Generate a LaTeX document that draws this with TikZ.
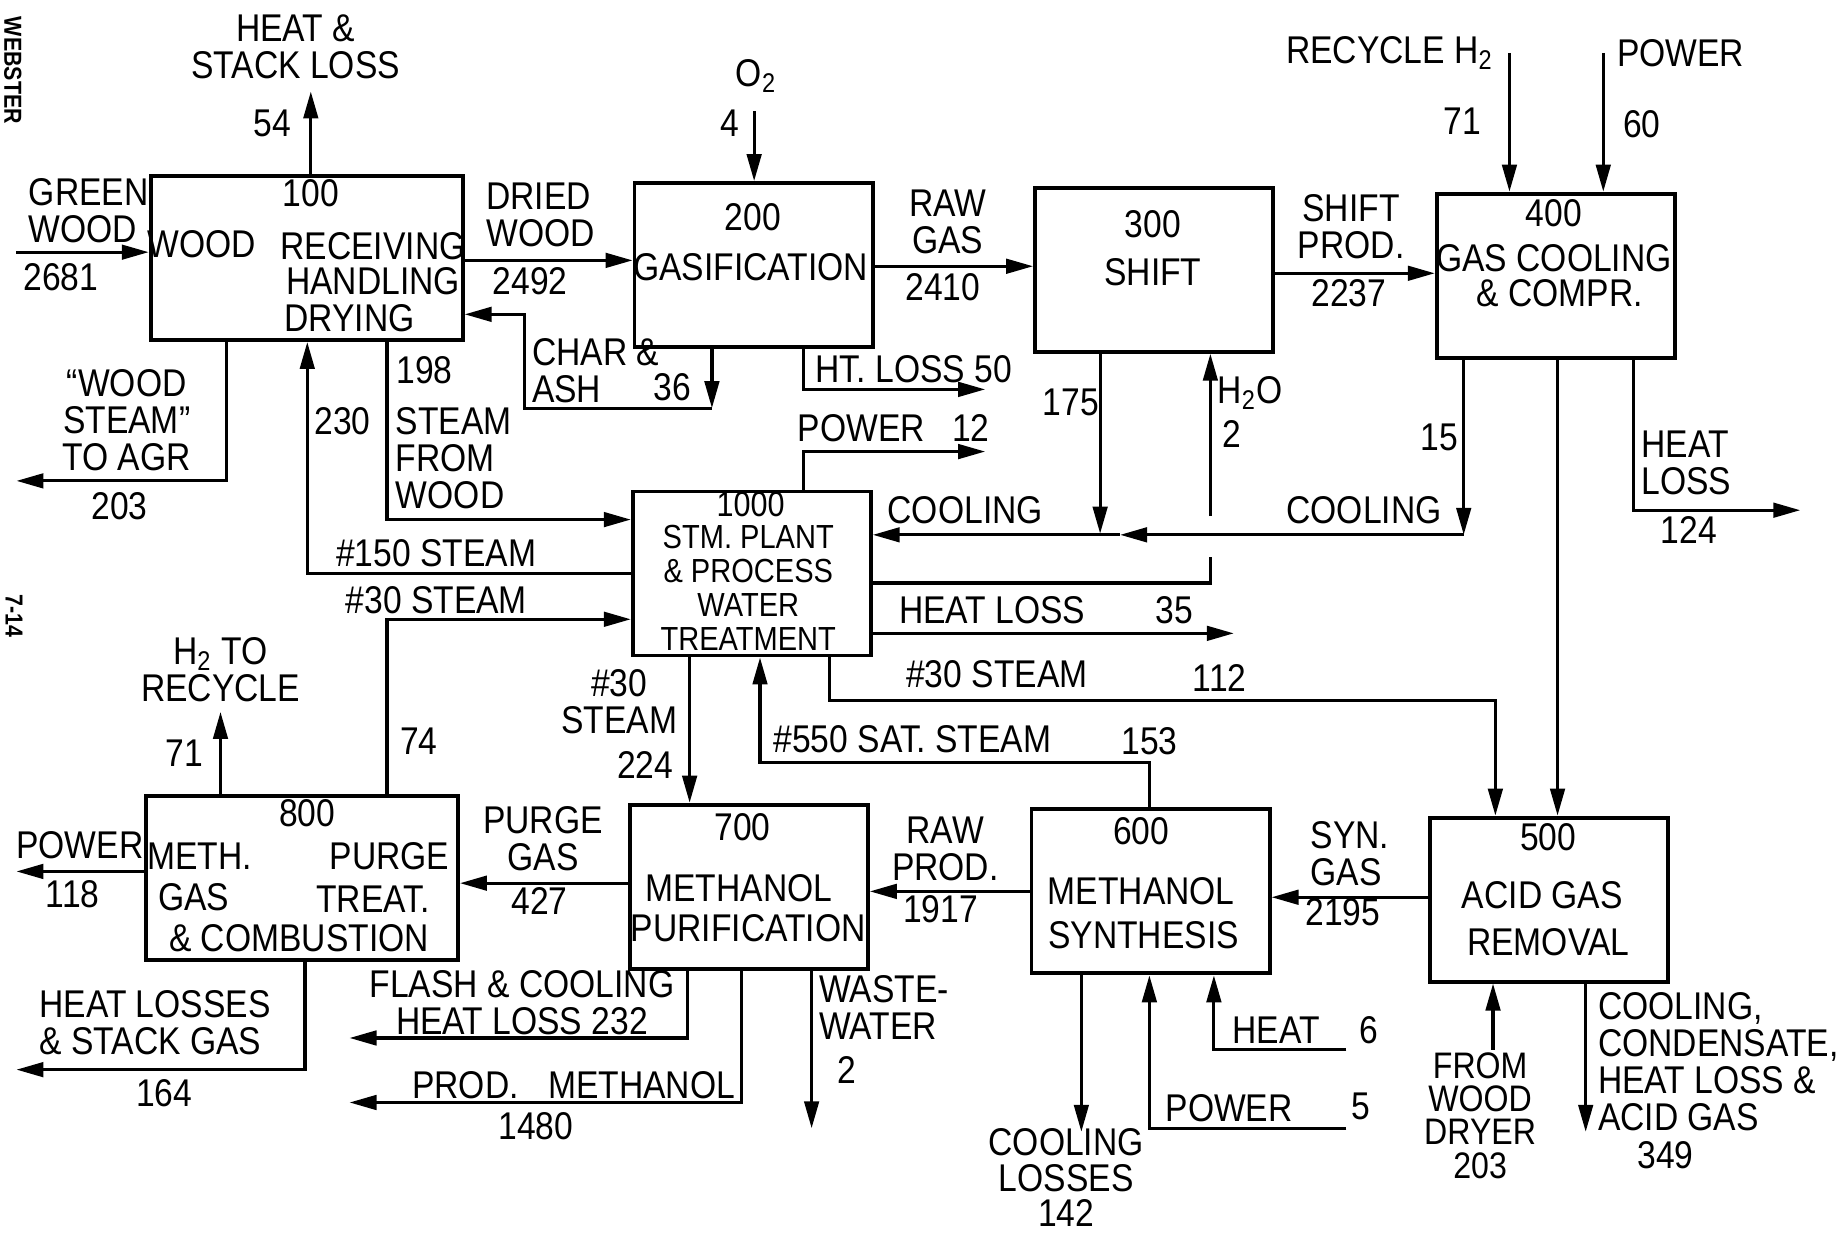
\documentclass[tikz,border=0pt]{standalone}
\usepackage{fontspec}
\setmainfont[FakeStretch=0.87]{Liberation Sans}
\usetikzlibrary{arrows.meta}
\tikzset{
  unit/.style ={draw,line width=1.1pt,minimum width=23.8mm,minimum height=16.4mm,inner sep=0pt},
  wunit/.style={unit,minimum width=31.2mm},
  txt/.style  ={inner sep=0pt,align=center,font=\fontsize{11}{10.5}\selectfont},
  stxt/.style ={txt,font=\fontsize{10}{9}\selectfont},
  ltxt/.style ={txt,align=left,anchor=west},
  flow/.style ={-{Triangle[length=2.7mm,width=1.45mm]},line width=0.9pt},
  pipe/.style ={line width=0.9pt},
}

\begin{document}
\begin{tikzpicture}[x=0.11728mm,y=-0.11728mm]
\useasboundingbox (0,0) rectangle (1568,1051);
% page margin marks
\node[rotate=-90,font=\bfseries\scriptsize] (mweb) at (11,60) {WEBSTER};
\node[rotate=-90,font=\bfseries\scriptsize] (mpage) at (12,525) {7-14};

% process units
\node[wunit] (u100)  at (261.5,220) {};
\node[unit]  (u200)  at (642.5,226) {};
\node[unit]  (u300)  at (984,230) {};
\node[unit]  (u400)  at (1326.5,235) {};
\node[unit]  (u1000) at (641,489) {};
\node[wunit] (u800)  at (257.5,748.5) {};
\node[unit]  (u700)  at (638.5,756) {};
\node[unit]  (u600)  at (981,760) {};
\node[unit]  (u500)  at (1321,767) {};

% unit texts
\node[txt] (n100) at (265,165) {100};
\node[txt] (n100a) at (172,208) {WOOD};
\node[txt] (n100b) at (318,210) {RECEIVING};
\node[txt] (n100c) at (318,240) {HANDLING};
\node[txt] (n100d) at (298,271) {DRYING};
\node[txt] (n200) at (642,185) {200};
\node[txt] (n200a) at (640,228) {GASIFICATION};
\node[txt] (n300) at (983,191) {300};
\node[txt] (n300a) at (983,232) {SHIFT};
\node[txt] (n400) at (1325,182) {400};
\node[txt] (n400a) at (1325,220) {GAS COOLING};
\node[txt] (n400b) at (1330,250) {\& COMPR.};
\node[stxt] (n1000) at (640,430) {1000};
\node[txt,font=\fontsize{9.5}{9.7}\selectfont] (n1000a) at (638,501)
  {STM. PLANT\\\& PROCESS\\WATER\\TREATMENT};
\node[txt] (n800) at (262,693) {800};
\node[txt] (n800a) at (170,730) {METH.};
\node[txt] (n800b) at (332,730) {PURGE};
\node[txt] (n800c) at (165,765) {GAS};
\node[txt] (n800d) at (318,767) {TREAT.};
\node[txt] (n800e) at (255,800) {\& COMBUSTION};
\node[txt] (n700) at (633,705) {700};
\node[txt] (n700a) at (630,757) {METHANOL};
\node[txt] (n700b) at (638,791) {PURIFICATION};
\node[txt] (n600) at (973,709) {600};
\node[txt] (n600a) at (973,760) {METHANOL};
\node[txt] (n600b) at (975,797) {SYNTHESIS};
\node[txt] (n500) at (1320,714) {500};
\node[txt] (n500a) at (1315,763) {ACID GAS};
\node[txt] (n500b) at (1320,803) {REMOVAL};

% free ends
\coordinate (greenin)  at (14,215);
\coordinate (stackout) at (265,78);
\coordinate (o2in)     at (643,95);
\coordinate (h2in)     at (1287,45);
\coordinate (pw60in)   at (1367,45);
\coordinate (agrout)   at (14,410);
\coordinate (htloss)   at (840,332);
\coordinate (pw12out)  at (840,385);
\coordinate (hl124)    at (1535,435);
\coordinate (hl35)     at (1052,540);
\coordinate (h2out)    at (188,607);
\coordinate (pw118)    at (14,743);
\coordinate (stackgas) at (14,912);
\coordinate (flashout) at (298,885);
\coordinate (prodout)  at (298,940);
\coordinate (wwout)    at (692,962);
\coordinate (coolout)  at (922,965);
\coordinate (pw5in)    at (1148,962);
\coordinate (heat6in)  at (1148,895);
\coordinate (dryerin)  at (1273,895);
\coordinate (acidout)  at (1352,965);
\coordinate (charc)    at (607,348);
\coordinate (coolmix)  at (938,455);
\coordinate (coolc)    at (1248,456);
\coordinate (coolmid)  at (955,456);
\coordinate (h2oa)     at (1032,475);
\coordinate (h2ob)     at (1032,440);

% streams
\draw[flow] (greenin) -- (greenin -| u100.west);
\draw[flow] (stackout |- u100.north) -- (stackout);
\draw[flow] (u100.east |- 0,222) -- (u200.west |- 0,222);
\draw[flow] (o2in) -- (o2in |- u200.north);
\draw[flow] (u200.east |- 0,227) -- (u300.west |- 0,227);
\draw[flow] (u300.east |- 0,233) -- (u400.west |- 0,233);
\draw[flow] (h2in) -- (h2in |- u400.north);
\draw[flow] (pw60in) -- (pw60in |- u400.north);
\draw[flow] (charc |- u200.south) -- (charc);
\draw[flow] (charc) -| (447,268) -- (u100.east |- 0,268);
\draw[flow] (685,0 |- u200.south) |- (htloss);
\draw[flow] (685,0 |- u1000.north) |- (pw12out);
\draw[flow] (coolmix |- u300.south) -- (coolmix);
\draw[flow] (coolc |- u400.south) -- (coolc);
\draw[flow] (coolc) -- (coolmid);
\draw[flow] (coolmid) -- (u1000.east |- coolmid);
\draw[pipe] (u1000.east |- 0,497) -| (h2oa);
\draw[flow] (h2ob) -- (h2ob |- u300.south);
\draw[flow] (1393,0 |- u400.south) |- (hl124);
\draw[flow] (1328,0 |- u400.south) -- (1328,0 |- u500.north);
\draw[flow] (707,0 |- u1000.south) |- (1275,597) -- (1275,0 |- u500.north);
\draw[flow] (u1000.east |- hl35) -- (hl35);
\draw[flow] (980,0 |- u600.north) |- (648,650) -- (648,0 |- u1000.south);
\draw[flow] (588,0 |- u1000.south) -- (588,0 |- u700.north);
\draw[flow] (u1000.west |- 0,489) -| (262,0 |- u100.south);
\draw[flow] (330,0 |- u100.south) |- (u1000.west |- 0,443);
\draw[flow] (193,0 |- u100.south) |- (agrout);
\draw[flow] (330,0 |- u800.north) |- (u1000.west |- 0,528);
\draw[flow] (h2out |- u800.north) -- (h2out);
\draw[flow] (u800.west |- pw118) -- (pw118);
\draw[flow] (260,0 |- u800.south) |- (stackgas);
\draw[flow] (u700.west |- 0,753) -- (u800.east |- 0,753);
\draw[flow] (586,0 |- u700.south) |- (flashout);
\draw[flow] (632,0 |- u700.south) |- (prodout);
\draw[flow] (wwout |- u700.south) -- (wwout);
\draw[flow] (u600.west |- 0,760) -- (u700.east |- 0,760);
\draw[flow] (u500.west |- 0,765) -- (u600.east |- 0,765);
\draw[flow] (coolout |- u600.south) -- (coolout);
\draw[flow] (pw5in) -| (980,0 |- u600.south);
\draw[flow] (heat6in) -| (1035,0 |- u600.south);
\draw[flow] (dryerin) -- (dryerin |- u500.south);
\draw[flow] (1352,0 |- u500.south) -- (acidout);

% stream labels
\node[txt] (lstack) at (252,40) {HEAT \&\\STACK LOSS};
\node[txt] (l54) at (232,105) {54};
\node[ltxt] (lgreen) at (24,180) {GREEN\\WOOD};
\node[txt] (l2681) at (52,236) {2681};
\node[ltxt] (ldried) at (414,183) {DRIED\\WOOD};
\node[txt] (l2492) at (452,240) {2492};
\node[txt] (lo2) at (645,65) {O\textsubscript{2}};
\node[txt] (l4) at (622,105) {4};
\node[txt] (lraw) at (808,189) {RAW\\GAS};
\node[txt] (l2410) at (804,245) {2410};
\node[txt] (lshift) at (1152,193) {SHIFT\\PROD.};
\node[txt] (l2237) at (1150,250) {2237};
\node[txt] (lrecyc) at (1185,45) {RECYCLE H\textsubscript{2}};
\node[txt] (l71a) at (1247,103) {71};
\node[txt] (lpw60) at (1433,45) {POWER};
\node[txt] (l60) at (1400,106) {60};
\node[ltxt] (lchar) at (453,316) {CHAR \&\\ASH};
\node[txt] (l36) at (573,330) {36};
\node[txt] (lht50) at (779,315) {HT. LOSS 50};
\node[txt] (lpw12) at (762,365) {POWER\hspace{2.7mm}12};
\node[txt] (l175) at (913,343) {175};
\node[txt] (lh2o) at (1066,335) {H\textsubscript{2}O};
\node[txt] (l2b) at (1050,370) {2};
\node[txt] (l15) at (1227,373) {15};
\node[txt] (lcool1) at (823,435) {COOLING};
\node[txt] (lcool2) at (1163,435) {COOLING};
\node[ltxt] (lhl124) at (1399,395) {HEAT\\LOSS};
\node[txt] (l124) at (1440,452) {124};
\node[txt] (l150) at (372,472) {\#150 STEAM};
\node[txt] (l230) at (292,359) {230};
\node[txt] (l198) at (362,316) {198};
\node[ltxt] (lsfw) at (337,391) {STEAM\\FROM\\WOOD};
\node[txt] (lagr) at (108,358) {``WOOD\\STEAM''\\TO AGR};
\node[txt] (l203a) at (102,432) {203};
\node[txt] (lhl35) at (846,520) {HEAT LOSS};
\node[txt] (l35) at (1001,520) {35};
\node[txt] (l30a) at (850,575) {\#30 STEAM};
\node[txt] (l112) at (1040,578) {112};
\node[txt] (l550) at (778,630) {\#550 SAT. STEAM};
\node[txt] (l153) at (980,632) {153};
\node[txt] (l30b) at (528,598) {\#30\\STEAM};
\node[txt] (l224) at (550,652) {224};
\node[txt] (l30c) at (372,512) {\#30 STEAM};
\node[txt] (l74) at (357,632) {74};
\node[txt] (lh2to) at (188,571) {H\textsubscript{2} TO\\RECYCLE};
\node[txt] (l71b) at (157,642) {71};
\node[txt] (lpw118) at (68,721) {POWER};
\node[txt] (l118) at (62,762) {118};
\node[ltxt] (lhls) at (33,872) {HEAT LOSSES\\\& STACK GAS};
\node[txt] (l164) at (140,932) {164};
\node[txt] (lpurge) at (463,715) {PURGE\\GAS};
\node[txt] (l427) at (460,768) {427};
\node[txt] (lflash) at (445,855) {FLASH \& COOLING\\HEAT LOSS 232};
\node[txt] (lprod) at (489,925) {PROD.\hspace{2mm} METHANOL};
\node[txt] (l1480) at (457,960) {1480};
\node[ltxt] (lww) at (698,859) {WASTE-\\WATER};
\node[txt] (l2c) at (722,912) {2};
\node[txt] (lrawp) at (806,724) {RAW\\PROD.};
\node[txt] (l1917) at (802,775) {1917};
\node[ltxt] (lsyn) at (1117,728) {SYN.\\GAS};
\node[txt] (l2195) at (1145,778) {2195};
\node[txt,font=\fontsize{11}{10}\selectfont] (lcl) at (909,1004) {COOLING\\LOSSES\\142};
\node[txt] (lheat6) at (1088,878) {HEAT};
\node[txt] (l6) at (1167,878) {6};
\node[txt] (lpw5) at (1048,945) {POWER};
\node[txt] (l5) at (1160,943) {5};
\node[stxt,font=\fontsize{10.5}{9.5}\selectfont] (ldryer) at (1262,951) {FROM\\WOOD\\DRYER\\203};
\node[ltxt] (lacid) at (1362,905) {COOLING,\\CONDENSATE,\\HEAT LOSS \&\\ACID GAS};
\node[txt] (l349) at (1420,985) {349};
\end{tikzpicture}
\end{document}
